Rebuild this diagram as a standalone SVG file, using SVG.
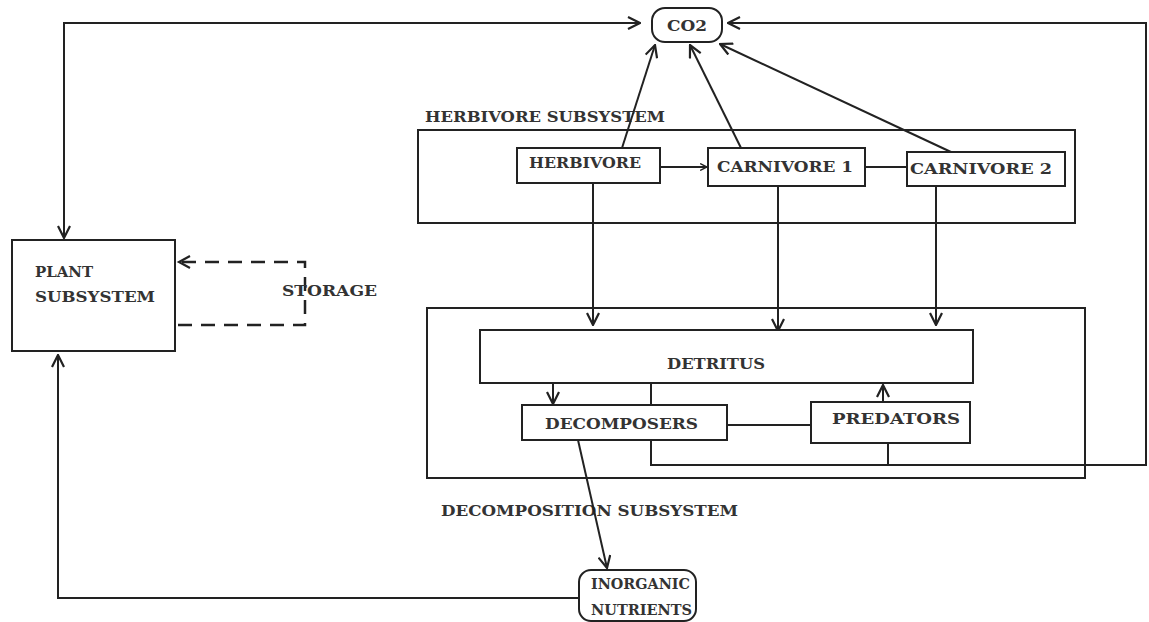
<svg xmlns="http://www.w3.org/2000/svg" width="1149" height="622" viewBox="0 0 1149 622">
<style>
.box{fill:#fff;stroke:#222;stroke-width:2}
.ln{fill:none;stroke:#222;stroke-width:2}
.dash{fill:none;stroke:#222;stroke-width:2.5;stroke-dasharray:14 9}
.t{font-family:"DejaVu Serif","Liberation Serif",serif;font-size:15px;font-weight:bold;fill:#333}
</style>
<defs>
<marker id="ah" viewBox="0 0 14 14" markerWidth="14" markerHeight="14" refX="13" refY="7" orient="auto-start-reverse" markerUnits="userSpaceOnUse">
<path d="M1,1 L13,7 L1,13" fill="none" stroke="#222" stroke-width="2.2"/>
</marker>
<marker id="ahs" viewBox="0 0 14 14" markerWidth="8" markerHeight="8" refX="13" refY="7" orient="auto" markerUnits="userSpaceOnUse">
<path d="M1,1 L13,7 L1,13" fill="none" stroke="#222" stroke-width="2.5"/>
</marker>
</defs>
<rect width="1149" height="622" fill="#fff"/>

<g id="herbivore-subsystem">
<rect class="box" x="418" y="130" width="657" height="93"/>
<text class="t" x="425" y="122" textLength="240" lengthAdjust="spacingAndGlyphs">HERBIVORE SUBSYSTEM</text>
</g>
<g id="decomposition-subsystem">
<rect class="box" x="427" y="308" width="658" height="170"/>
<text class="t" x="441" y="516" textLength="297" lengthAdjust="spacingAndGlyphs">DECOMPOSITION SUBSYSTEM</text>
</g>

<g id="connectors">
<polyline class="ln" points="640,23 64,23 64,238" marker-start="url(#ah)" marker-end="url(#ah)"/>
<polyline class="ln" points="651,440 651,465 1146,465 1146,23 728,23" marker-end="url(#ah)"/>
<line class="ln" x1="888" y1="443" x2="888" y2="465"/>
<line class="ln" x1="622" y1="148" x2="655" y2="45" marker-end="url(#ah)"/>
<line class="ln" x1="742" y1="150" x2="690" y2="45" marker-end="url(#ah)"/>
<line class="ln" x1="951" y1="152" x2="720" y2="44" marker-end="url(#ah)"/>
<line class="ln" x1="660" y1="167" x2="707" y2="167" marker-end="url(#ahs)"/>
<line class="ln" x1="865" y1="167" x2="907" y2="167"/>
<line class="ln" x1="593" y1="183" x2="593" y2="325" marker-end="url(#ah)"/>
<line class="ln" x1="778" y1="186" x2="778" y2="331" marker-end="url(#ah)"/>
<line class="ln" x1="936" y1="186" x2="936" y2="325" marker-end="url(#ah)"/>
<line class="ln" x1="553" y1="383" x2="553" y2="404" marker-end="url(#ah)"/>
<line class="ln" x1="651" y1="383" x2="651" y2="405"/>
<line class="ln" x1="883" y1="402" x2="883" y2="385" marker-end="url(#ah)"/>
<line class="ln" x1="727" y1="425" x2="811" y2="425"/>
<line class="ln" x1="578" y1="440" x2="607" y2="568" marker-end="url(#ah)"/>
<polyline class="ln" points="579,598 58,598 58,355" marker-end="url(#ah)"/>
<polyline class="dash" points="178,325 305,325 305,262 180,262"/>
<path d="M190,256 L179,262 L190,268" fill="none" stroke="#222" stroke-width="2.2"/>
</g>

<g id="co2">
<rect class="box" x="652" y="8" width="70" height="34" rx="13"/>
<text class="t" x="687" y="31" text-anchor="middle" textLength="40" lengthAdjust="spacingAndGlyphs">CO2</text>
</g>
<g id="plant">
<rect class="box" x="12" y="240" width="163" height="111"/>
<text class="t" x="35" y="277" textLength="58" lengthAdjust="spacingAndGlyphs">PLANT</text>
<text class="t" x="35" y="302" textLength="120" lengthAdjust="spacingAndGlyphs">SUBSYSTEM</text>
</g>
<g id="storage">
<text class="t" x="282" y="296" textLength="95" lengthAdjust="spacingAndGlyphs">STORAGE</text>
</g>
<g id="herbivore">
<rect class="box" x="517" y="148" width="143" height="35"/>
<text class="t" x="529" y="168" textLength="112" lengthAdjust="spacingAndGlyphs">HERBIVORE</text>
</g>
<g id="carnivore1">
<rect class="box" x="708" y="148" width="157" height="38"/>
<text class="t" x="717" y="172" textLength="136" lengthAdjust="spacingAndGlyphs">CARNIVORE 1</text>
</g>
<g id="carnivore2">
<rect class="box" x="907" y="152" width="158" height="34"/>
<text class="t" x="910" y="174" textLength="142" lengthAdjust="spacingAndGlyphs">CARNIVORE 2</text>
</g>
<g id="detritus">
<rect class="box" x="480" y="330" width="493" height="53"/>
<text class="t" x="667" y="369" textLength="98" lengthAdjust="spacingAndGlyphs">DETRITUS</text>
</g>
<g id="decomposers">
<rect class="box" x="522" y="405" width="205" height="35"/>
<text class="t" x="545" y="429" textLength="153" lengthAdjust="spacingAndGlyphs">DECOMPOSERS</text>
</g>
<g id="predators">
<rect class="box" x="811" y="402" width="159" height="41"/>
<text class="t" x="832" y="424" textLength="128" lengthAdjust="spacingAndGlyphs">PREDATORS</text>
</g>
<g id="inorganic-nutrients">
<rect class="box" x="579" y="570" width="117" height="51" rx="12"/>
<text class="t" x="591" y="589" textLength="99" lengthAdjust="spacingAndGlyphs">INORGANIC</text>
<text class="t" x="591" y="615" textLength="101" lengthAdjust="spacingAndGlyphs">NUTRIENTS</text>
</g>
</svg>
